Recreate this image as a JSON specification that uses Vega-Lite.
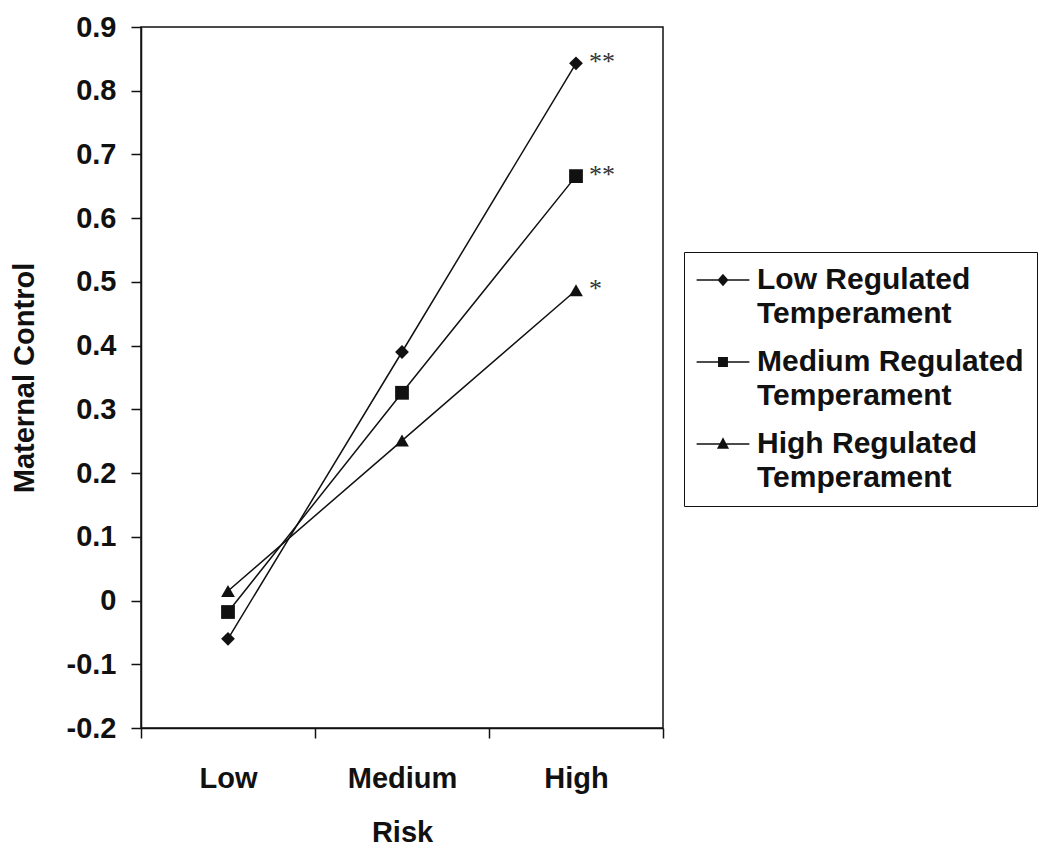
{
  "$schema": "https://vega.github.io/schema/vega-lite/v6.json",
  "width": 522,
  "height": 701,
  "autosize": "none",
  "padding": {"left": 141, "top": 27, "right": 387, "bottom": 124},
  "background": "white",
  "config": {
    "view": {"stroke": "#111", "strokeWidth": 1.5},
    "font": "Liberation Sans",
    "style": {"guide-label": {"lineHeight": 34}},
    "axis": {"grid": false, "domainColor": "#111", "domainWidth": 1.5, "tickColor": "#111", "tickWidth": 1.5, "tickSize": 10,
      "labelFont": "Liberation Sans", "labelFontSize": 29, "labelFontWeight": "bold", "labelColor": "#111",
      "titleFont": "Liberation Sans", "titleFontSize": 29, "titleFontWeight": "bold", "titleColor": "#111"}
  },
  "data": {"values": [
    {"group": "Low Regulated Temperament", "risk": "Low", "value": -0.06, "sig": ""},
    {"group": "Low Regulated Temperament", "risk": "Medium", "value": 0.39, "sig": ""},
    {"group": "Low Regulated Temperament", "risk": "High", "value": 0.843, "sig": "**"},
    {"group": "Medium Regulated Temperament", "risk": "Low", "value": -0.018, "sig": ""},
    {"group": "Medium Regulated Temperament", "risk": "Medium", "value": 0.326, "sig": ""},
    {"group": "Medium Regulated Temperament", "risk": "High", "value": 0.666, "sig": "**"},
    {"group": "High Regulated Temperament", "risk": "Low", "value": 0.015, "sig": ""},
    {"group": "High Regulated Temperament", "risk": "Medium", "value": 0.251, "sig": ""},
    {"group": "High Regulated Temperament", "risk": "High", "value": 0.487, "sig": "*"}
  ]},
  "encoding": {
    "x": {"field": "risk", "type": "ordinal", "sort": ["Low", "Medium", "High"], "bandPosition": 0.5,
      "scale": {"type": "band", "paddingInner": 0, "paddingOuter": 0},
      "axis": {"title": "Risk", "labelAngle": 0, "tickBand": "extent", "labelPadding": 26, "titlePadding": 25}},
    "y": {"field": "value", "type": "quantitative",
      "scale": {"domain": [-0.2, 0.9], "nice": false, "zero": false},
      "axis": {"title": "Maternal Control", "values": [-0.2, -0.1, 0, 0.1, 0.2, 0.3, 0.4, 0.5, 0.6, 0.7, 0.8, 0.9],
        "labelExpr": "replace(format(datum.value, '.1~f'), '−', '-')", "labelPadding": 15, "titlePadding": 27}}
  },
  "layer": [
    {"mark": {"type": "line", "color": "#111", "strokeWidth": 1.5},
     "encoding": {"detail": {"field": "group", "type": "nominal"}}},
    {"mark": {"type": "point", "filled": true, "color": "#111", "opacity": 1, "size": 190},
     "encoding": {"shape": {"field": "group", "type": "nominal",
       "scale": {"domain": ["Low Regulated Temperament", "Medium Regulated Temperament", "High Regulated Temperament"],
                 "range": ["diamond", "square", "triangle-up"]}, "legend": null}}},
    {"mark": {"type": "point", "filled": false, "stroke": "#111", "strokeWidth": 1.5, "opacity": 0, "size": 144},
     "encoding": {"shape": {"field": "group", "type": "nominal",
       "scale": {"domain": ["Low Regulated Temperament", "Medium Regulated Temperament", "High Regulated Temperament"],
                 "range": [
                   "M-4.4,0L4.4,0M0,-0.85L0.75,0L0,0.85L-0.75,0ZM0,-0.64L0.56,0L0,0.64L-0.56,0ZM0,-0.43L0.38,0L0,0.43L-0.38,0ZM0,-0.22L0.19,0L0,0.22L-0.19,0Z",
                   "M-4.4,0L4.4,0M-0.7,-0.7L0.7,-0.7L0.7,0.7L-0.7,0.7ZM-0.5,-0.5L0.5,-0.5L0.5,0.5L-0.5,0.5ZM-0.3,-0.3L0.3,-0.3L0.3,0.3L-0.3,0.3ZM-0.1,-0.1L0.1,-0.1L0.1,0.1L-0.1,0.1Z",
                   "M-4.4,0L4.4,0M0,-0.85L0.8,0.65L-0.8,0.65ZM0,-0.6L0.58,0.55L-0.58,0.55ZM0,-0.35L0.36,0.45L-0.36,0.45ZM0,-0.1L0.14,0.35L-0.14,0.35Z"]},
       "legend": {"orient": "none", "legendX": 543, "legendY": 225, "direction": "vertical", "title": null,
         "labelFont": "Liberation Sans", "labelFontSize": 30, "labelFontWeight": "bold", "labelColor": "#111", "labelLimit": 0,
         "labelExpr": "[replace(datum.label, ' Temperament', ''), 'Temperament']",
         "symbolSize": 144, "symbolStrokeWidth": 1.5, "symbolOpacity": 1, "symbolStrokeColor": "#111",
         "symbolOffset": 11, "labelOffset": 19, "padding": 13, "strokeColor": "#111", "fillColor": "white",
         "rowPadding": 18, "labelBaseline": "middle"}}}},
    {"transform": [{"filter": "datum.sig != ''"}],
     "mark": {"type": "text", "font": "Liberation Serif", "fontSize": 26, "align": "left", "dx": 13, "dy": -1, "color": "#333"},
     "encoding": {"text": {"field": "sig"}}}
  ],
  "resolve": {"scale": {"shape": "independent"}, "legend": {"shape": "independent"}}
}
